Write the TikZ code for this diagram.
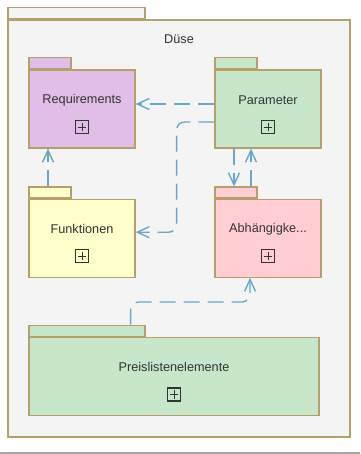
\documentclass[tikz,border=0pt]{standalone}
\usepackage{fontspec}
\setmainfont{Liberation Sans}
\usetikzlibrary{arrows.meta, positioning}

\definecolor{pkgline}{RGB}{181,160,108}
\definecolor{outerfill}{RGB}{244,244,244}
\definecolor{reqfill}{RGB}{225,190,231}
\definecolor{parfill}{RGB}{200,230,201}
\definecolor{fktfill}{RGB}{255,255,204}
\definecolor{abhfill}{RGB}{255,205,210}
\definecolor{depline}{RGB}{104,168,204}
\definecolor{txtgray}{RGB}{51,51,51}

\begin{document}
\begin{tikzpicture}[x = 1pt, y = -1pt, line width = 1.2pt, text = txtgray,
    font = \fontsize{12.7}{15}\selectfont, node distance = 78.8pt,
    dep/.style = {draw = depline, line width = 1.4pt, dash pattern = on 16pt off 8pt, rounded corners = 8pt,
      -{Straight Barb[length = 12pt, width = 11pt]}},
    plusbox/.style = {draw = txtgray, line width = 1.2pt, minimum size = 13pt, inner sep = 0pt,
      path picture = {\draw[line width = 0.9pt]
        ([yshift = -2.4pt]path picture bounding box.north) -- ([yshift = 2.4pt]path picture bounding box.south)
        ([xshift = 2.4pt]path picture bounding box.west) -- ([xshift = -2.4pt]path picture bounding box.east);}}]
  \tikzstyle{pkg} = [draw = pkgline, rectangle, inner sep = 0pt, minimum width = 106pt, minimum height = 78pt]
  \tikzstyle{pkgtab} = [draw = pkgline, rectangle, inner sep = 0pt, minimum width = 42pt, minimum height = 11pt, anchor = south west]
  \useasboundingbox (0,0) rectangle (360,454);
  \fill[black!35] (0,452) rectangle (360,454);

  % outer package
  \node[pkg, fill = outerfill, minimum width = 342pt, minimum height = 417pt] (duese) at (179,228.5) {};
  \node[pkgtab, fill = outerfill, minimum width = 137pt] (duesetab) at (duese.north west) {};
  \node (duesename) at ([yshift = -20pt]duese.north) {Düse};

  % inner packages
  \node[pkg, fill = reqfill] (req) at (82,109) {};
  \node[pkg, fill = parfill] (par) [right = of req] {};
  \node[pkg, fill = fktfill] (fkt) [below = 50pt of req] {};
  \node[pkg, fill = abhfill] (abh) [below = 50pt of par] {};
  \node[pkg, fill = parfill, minimum width = 290pt] (preis) [below = 59pt of fkt.south west, anchor = north west] {};
  \node[pkgtab, fill = reqfill] (reqtab) at (req.north west) {};
  \node[pkgtab, fill = parfill] (partab) at (par.north west) {};
  \node[pkgtab, fill = fktfill] (fkttab) at (fkt.north west) {};
  \node[pkgtab, fill = abhfill] (abhtab) at (abh.north west) {};
  \node[pkgtab, fill = parfill, minimum width = 116pt] (preistab) at (preis.north west) {};

  \foreach \p/\t in {req/Requirements, par/Parameter, fkt/Funktionen, abh/{Abhängigke...}, preis/Preislistenelemente} {
    \node (\p name) at ([yshift = 9pt]\p.center) {\t};
    \node[plusbox] (\p icon) at ([yshift = -18pt]\p.center) {};
  }

  % dependencies
  \coordinate (preisbend) at (250,302);
  \draw[dep] ([yshift = 5pt]par.west) -- ([yshift = 5pt]req.east);
  \draw[dep] ([yshift = -13pt]par.west) -| ([xshift = 41pt, yshift = 6pt]fkt.east) -- ([yshift = 6pt]fkt.east);
  \draw[dep] ([xshift = -2pt]fkttab.north) -- ([xshift = -2pt]fkttab.north |- req.south);
  \draw[dep] ([xshift = -34pt]par.south) -- ([xshift = -34pt]par.south |- abhtab.north);
  \draw[dep] ([xshift = -17pt]par.south |- abhtab.north) -- ([xshift = -17pt]par.south);
  \draw[dep] ([xshift = -15pt]preistab.north east) |- (preisbend) -- (preisbend |- abh.south);

\end{tikzpicture}
\end{document}
